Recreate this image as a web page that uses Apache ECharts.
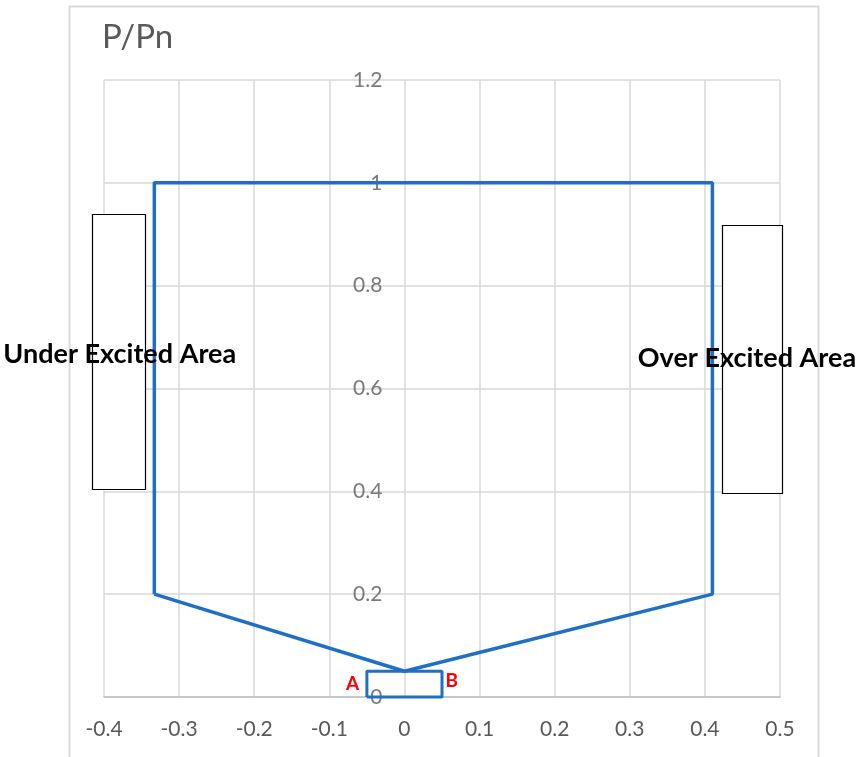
<!DOCTYPE html>
<html>
<head>
<meta charset="utf-8">
<script src="https://cdn.jsdelivr.net/npm/echarts@6/dist/echarts.min.js"></script>
<style>html,body{margin:0;padding:0;background:#fff;}#c{width:857px;height:757px;}</style>
</head>
<body>
<div id="c"></div>
<script>
// Capability curve outline (x = Q/Pn, y = P/Pn)
const curveX = [-0.333, -0.333, 0.41, 0.41, 0, -0.333];
const curveY = [0.2, 1, 1, 0.2, 0.05, 0.2];
// Small rectangle A-B
const boxX = [-0.05, -0.05, 0.05, 0.05, -0.05];
const boxY = [0, 0.05, 0.05, 0, 0];
// Point labels
const pointNames = ['A', 'B'];
const pointX = [-0.069, 0.063];
const pointY = [0.025, 0.031];
// Area text boxes [x1, y1, x2, y2] and text anchor
const areaNames = ['Under Excited Area', 'Over Excited Area'];
const areaX1 = [-0.416, 0.423];
const areaX2 = [-0.345, 0.503];
const areaY1 = [0.405, 0.397];
const areaY2 = [0.939, 0.918];
const areaTextX = [-0.379, 0.456];
const areaTextY = [0.667, 0.658];
// Axis ticks
const xTicks = [-0.4, -0.3, -0.2, -0.1, 0, 0.1, 0.2, 0.3, 0.4, 0.5];
const yTicks = [0, 0.2, 0.4, 0.6, 0.8, 1, 1.2];

const FONT = 'Lato';
const fmt = v => String(Math.round(v * 10) / 10);
const chart = echarts.init(document.getElementById('c'), null, {renderer: 'canvas'});
const areaData = areaNames.map((n, i) => [areaX1[i], areaY1[i], areaX2[i], areaY2[i], areaTextX[i], areaTextY[i]]);
const option = {
  animation: false,
  backgroundColor: '#fff',
  title: {
    text: 'P/Pn', left: 97, top: 16,
    textStyle: {fontFamily: FONT, fontSize: 33, fontWeight: 'normal', color: '#595959'}
  },
  graphic: [{
    type: 'rect', silent: true, z: -10,
    shape: {x: 69.5, y: 6.5, width: 749, height: 800},
    style: {fill: null, stroke: '#d9d9d9', lineWidth: 2}
  }],
  grid: {left: 104, right: 77, top: 80, bottom: 60},
  xAxis: {
    type: 'value', min: xTicks[0], max: xTicks[xTicks.length - 1], interval: 0.1,
    axisLine: {show: true, lineStyle: {color: '#bfbfbf', width: 1.5}},
    axisTick: {show: false},
    splitLine: {show: true, lineStyle: {color: '#d9d9d9', width: 1.5}},
    axisLabel: {fontFamily: FONT, fontSize: 21, color: '#595959', margin: 22, formatter: fmt}
  },
  yAxis: {
    type: 'value', min: yTicks[0], max: yTicks[yTicks.length - 1], interval: 0.2,
    axisLine: {show: false},
    axisTick: {show: false},
    splitLine: {show: true, lineStyle: {color: '#d9d9d9', width: 1.5}},
    axisLabel: {show: false}
  },
  series: [
    {
      // y-axis tick labels placed next to the vertical axis at x = 0
      type: 'scatter', silent: true, clip: false, z: 2,
      data: yTicks.map(v => [0, v]),
      symbolSize: 0.1,
      itemStyle: {color: 'rgba(0,0,0,0)'},
      label: {show: true, position: 'left', distance: 22, fontFamily: FONT, fontSize: 21,
        color: '#595959', formatter: p => fmt(p.value[1])}
    },
    {
      type: 'line', data: curveX.map((x, i) => [x, curveY[i]]),
      symbol: 'none', clip: false, z: 3,
      lineStyle: {color: '#1f6fc6', width: 3.5}
    },
    {
      type: 'line', data: boxX.map((x, i) => [x, boxY[i]]),
      symbol: 'none', clip: false, z: 3,
      lineStyle: {color: '#1f6fc6', width: 3}
    },
    {
      type: 'custom', clip: false, z: 4,
      data: areaData,
      renderItem: (params, api) => {
        const p1 = api.coord([api.value(0), api.value(3)]);
        const p2 = api.coord([api.value(2), api.value(1)]);
        const pt = api.coord([api.value(4), api.value(5)]);
        const name = areaNames[params.dataIndex];
        return {
          type: 'group',
          children: [
            {type: 'rect', shape: {x: Math.round(p1[0]) + 0.5, y: Math.round(p1[1]) + 0.5,
               width: Math.round(p2[0] - p1[0]), height: Math.round(p2[1] - p1[1])},
             style: {fill: '#fff', stroke: '#000', lineWidth: 1.2}},
            {type: 'text', x: pt[0], y: pt[1],
             style: {text: name, fontFamily: FONT, fontWeight: 'bold', fontSize: 27,
               fill: '#000', align: 'center', verticalAlign: 'middle'}}
          ]
        };
      }
    },
    {
      type: 'custom', clip: false, z: 4,
      data: pointNames.map((n, i) => [pointX[i], pointY[i]]),
      renderItem: (params, api) => {
        const p = api.coord([api.value(0), api.value(1)]);
        return {type: 'text', x: p[0], y: p[1],
          style: {text: pointNames[params.dataIndex], fontFamily: FONT, fontWeight: 'bold',
            fontSize: 19, fill: '#ff0000', align: 'center', verticalAlign: 'middle'}};
      }
    }
  ]
};
chart.setOption(option);
</script>
</body>
</html>
